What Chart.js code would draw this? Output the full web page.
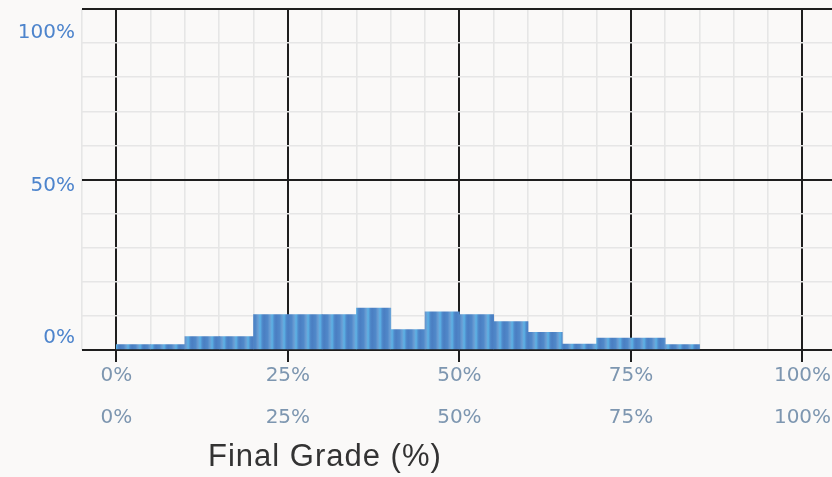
<!DOCTYPE html>
<html lang="en">
<head>
  <meta charset="UTF-8">
  <title>Final Grade (%)</title>
  <script src="https://cdn.jsdelivr.net/npm/chart.js"></script>
  <style>
    body { margin: 0; background: #faf9f8; }
    #wrap { position: relative; width: 832px; height: 477px; }
    #xTitle {
      position: absolute; left: 208px; top: 438px;
      font: 31px "Liberation Sans", Arial, sans-serif;
      color: #333; letter-spacing: 1px; white-space: nowrap;
    }
  </style>
</head>
<body>
  <div id="wrap">
    <canvas id="chartGrade"></canvas>
    <div id="xTitle">Final Grade (%)</div>
  </div>

  <script>
    // histogram bins (start of each 5% bin) and share of students (%)
    const binStarts = [0, 5, 10, 15, 20, 25, 30, 35, 40, 45, 50, 55, 60, 65, 70, 75, 80];
    const binShares = [1.6, 1.6, 3.9, 3.9, 10.4, 10.4, 10.4, 12.3, 6.0, 11.2, 10.4, 8.3, 5.2, 1.7, 3.5, 3.5, 1.6];
    const binWidth = 5;
    const xTickValues = [0, 25, 50, 75, 100];
    const yTickValues = [0, 50, 100];

    // striped blue fill like the original bars
    function stripeFill() {
      const c = document.createElement("canvas");
      c.width = 12; c.height = 4;
      const g = c.getContext("2d");
      const grad = g.createLinearGradient(0, 0, 12, 0);
      grad.addColorStop(0, "#4a7ec2");
      grad.addColorStop(0.3, "#5088c9");
      grad.addColorStop(0.5, "#6b9dd3");
      grad.addColorStop(0.68, "#5cb2e5");
      grad.addColorStop(0.85, "#4f8acb");
      grad.addColorStop(1, "#4a7ec2");
      g.fillStyle = grad;
      g.fillRect(0, 0, 12, 4);
      return g.createPattern(c, "repeat");
    }

    const points = binStarts.map((s, i) => ({ x: s + binWidth / 2, y: binShares[i] }));

    const X_MIN = -5, X_MAX = 104.3;
    const major = "#1e1e1e", minor = "#e6e6e6";
    const tickFont = { family: "DejaVu Sans", size: 20 };

    // the scales should not push the plot inwards to fit their end labels
    const noPad = s => { s.paddingLeft = 0; s.paddingRight = 0; s.paddingTop = 0; s.paddingBottom = 0; };

    new Chart(document.getElementById("chartGrade"), {
      type: "bar",
      data: {
        datasets: [{
          data: points,
          backgroundColor: stripeFill(),
          borderWidth: 0,
          barPercentage: 1,
          categoryPercentage: 1
        }]
      },
      options: {
        responsive: true,
        maintainAspectRatio: false,
        animation: false,
        layout: { padding: { top: 9, right: 0, bottom: 31, left: 0 } },
        plugins: { legend: { display: false }, tooltip: { enabled: false } },
        scales: {
          x: {
            type: "linear", position: "bottom", weight: 0,
            min: X_MIN, max: X_MAX, offset: false,
            afterBuildTicks: s => {
              const t = [];
              for (let v = X_MIN; v <= 100; v += 5) t.push({ value: v });
              s.ticks = t;
            },
            afterFit: noPad,
            grid: {
              offset: false,
              color: c => c.tick && c.tick.value % 25 === 0 ? major : minor,
              lineWidth: c => c.tick && c.tick.value % 25 === 0 ? 2 : 1.6,
              tickColor: c => c.tick && c.tick.value % 25 === 0 ? major : "rgba(0,0,0,0)",
              tickLength: 12, tickWidth: 2
            },
            border: { display: false },
            ticks: {
              autoSkip: false, maxRotation: 0, padding: 2,
              color: "#7d96b0", font: tickFont,
              callback: v => xTickValues.includes(v) ? v + "%" : ""
            }
          },
          x2: {
            type: "linear", position: "bottom", weight: 1,
            min: X_MIN, max: X_MAX, offset: false,
            afterBuildTicks: s => { s.ticks = xTickValues.map(v => ({ value: v })); },
            afterFit: noPad,
            grid: { display: false, drawTicks: false, offset: false },
            border: { display: false },
            ticks: {
              autoSkip: false, maxRotation: 0, padding: 16,
              color: "#7d96b0", font: tickFont,
              callback: v => v + "%"
            }
          },
          y: {
            position: "left", weight: 0,
            min: 0, max: 100,
            afterFit: noPad,
            ticks: { display: false, stepSize: 10 },
            grid: {
              drawTicks: false,
              color: c => c.tick && c.tick.value % 50 === 0 ? major : minor,
              lineWidth: c => c.tick && c.tick.value % 50 === 0 ? 2 : 1.6
            },
            border: { display: false }
          },
          yl: {
            position: "left", weight: 1,
            min: -3.93, max: 107.9,
            afterBuildTicks: s => { s.ticks = yTickValues.map(v => ({ value: v })); },
            afterFit: s => { noPad(s); s.width = 82; },
            grid: { display: false, drawTicks: false },
            border: { display: false },
            ticks: {
              padding: 7, color: "#4d84cc", font: tickFont,
              callback: v => v + "%"
            }
          }
        }
      }
    });
  </script>
</body>
</html>
